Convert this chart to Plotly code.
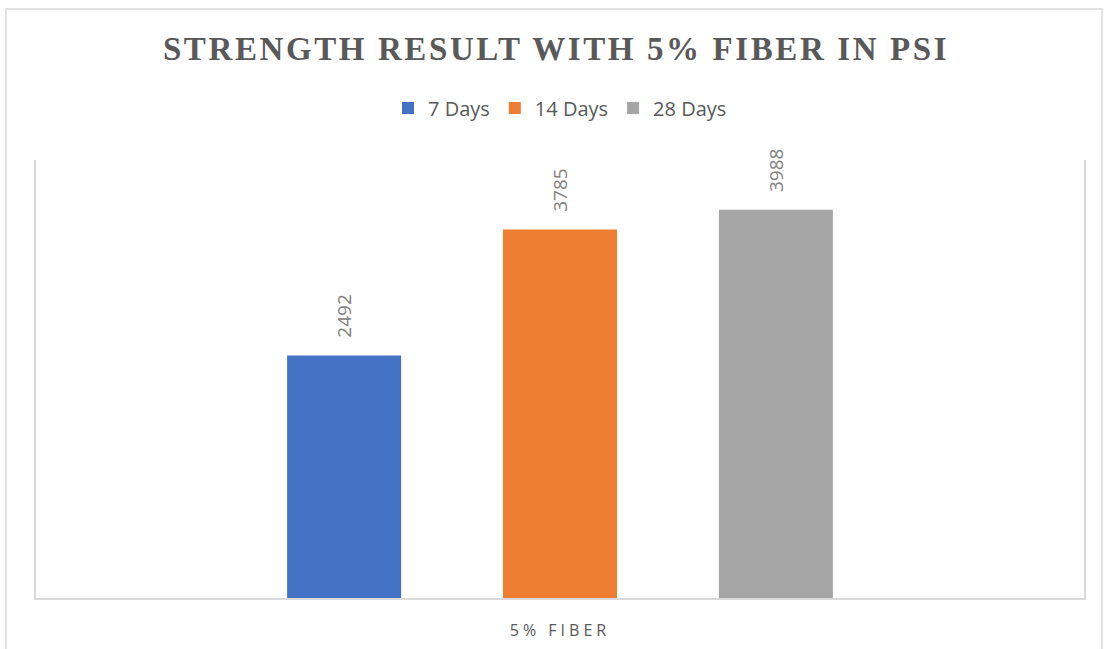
import plotly.graph_objects as go

categories = ["5% FIBER"]
series_names = ["7 Days", "14 Days", "28 Days"]
series_values = [[2492], [3785], [3988]]
colors = ["#4472C4", "#ED7D31", "#A5A5A5"]
tick_labels = ['<span style="letter-spacing:4px">5% FIBER</span>']

fig = go.Figure()
for name, vals, col in zip(series_names, series_values, colors):
    fig.add_trace(go.Bar(
        x=categories, y=vals, name=name, marker=dict(color=col, line=dict(width=0)),
        text=["\u00a0\u00a0\u00a0" + str(v) for v in vals],
        textposition="outside", textangle=-90,
        textfont=dict(family="Open Sans", size=19, color="#808080"),
        cliponaxis=False,
    ))

W, H = 1112, 649
ml, mr, mt, mb = 36, 28, 160, 51
pw, ph = W - ml - mr, H - mt - mb

fig.update_layout(
    width=W, height=H,
    margin=dict(l=ml, r=mr, t=mt, b=mb, pad=0, autoexpand=False),
    paper_bgcolor="white", plot_bgcolor="white",
    barmode="group", bargap=0.382, bargroupgap=0.472,
    title=dict(
        text='<span style="letter-spacing:2.6px"><b>STRENGTH RESULT WITH 5% FIBER IN PSI</b></span>',
        x=0.5, xanchor="center", xref="container",
        y=1 - 48 / H, yanchor="middle", yref="container",
        font=dict(family="Liberation Serif", size=33, color="#595959"),
    ),
    legend=dict(
        orientation="h", x=0.5, xanchor="center",
        y=(H - mb - 108) / ph, yanchor="middle",
        font=dict(family="Open Sans", size=20, color="#595959"),
        itemwidth=30, traceorder="normal",
    ),
    showlegend=True,
    xaxis=dict(
        showline=True, linecolor="#d9d9d9", linewidth=1.5,
        showgrid=False, ticks="", zeroline=False, automargin=False,
        tickvals=categories, ticktext=tick_labels,
        tickfont=dict(family="Open Sans", size=16, color="#595959"),
        ticklabelstandoff=17,
    ),
    yaxis=dict(
        range=[0, 4500], showgrid=False, zeroline=False, automargin=False,
        showticklabels=False, ticks="",
        showline=True, mirror=True, linecolor="#d9d9d9", linewidth=1.5,
    ),
    shapes=[dict(
        type="rect", xref="paper", yref="paper",
        x0=(6 - ml) / pw, x1=(1102 - ml) / pw,
        y0=(H - mb - 660) / ph, y1=(H - mb - 9) / ph,
        line=dict(color="#d9d9d9", width=1.5), fillcolor="rgba(0,0,0,0)",
        layer="below",
    )],
)

fig.write_html("out.html")
